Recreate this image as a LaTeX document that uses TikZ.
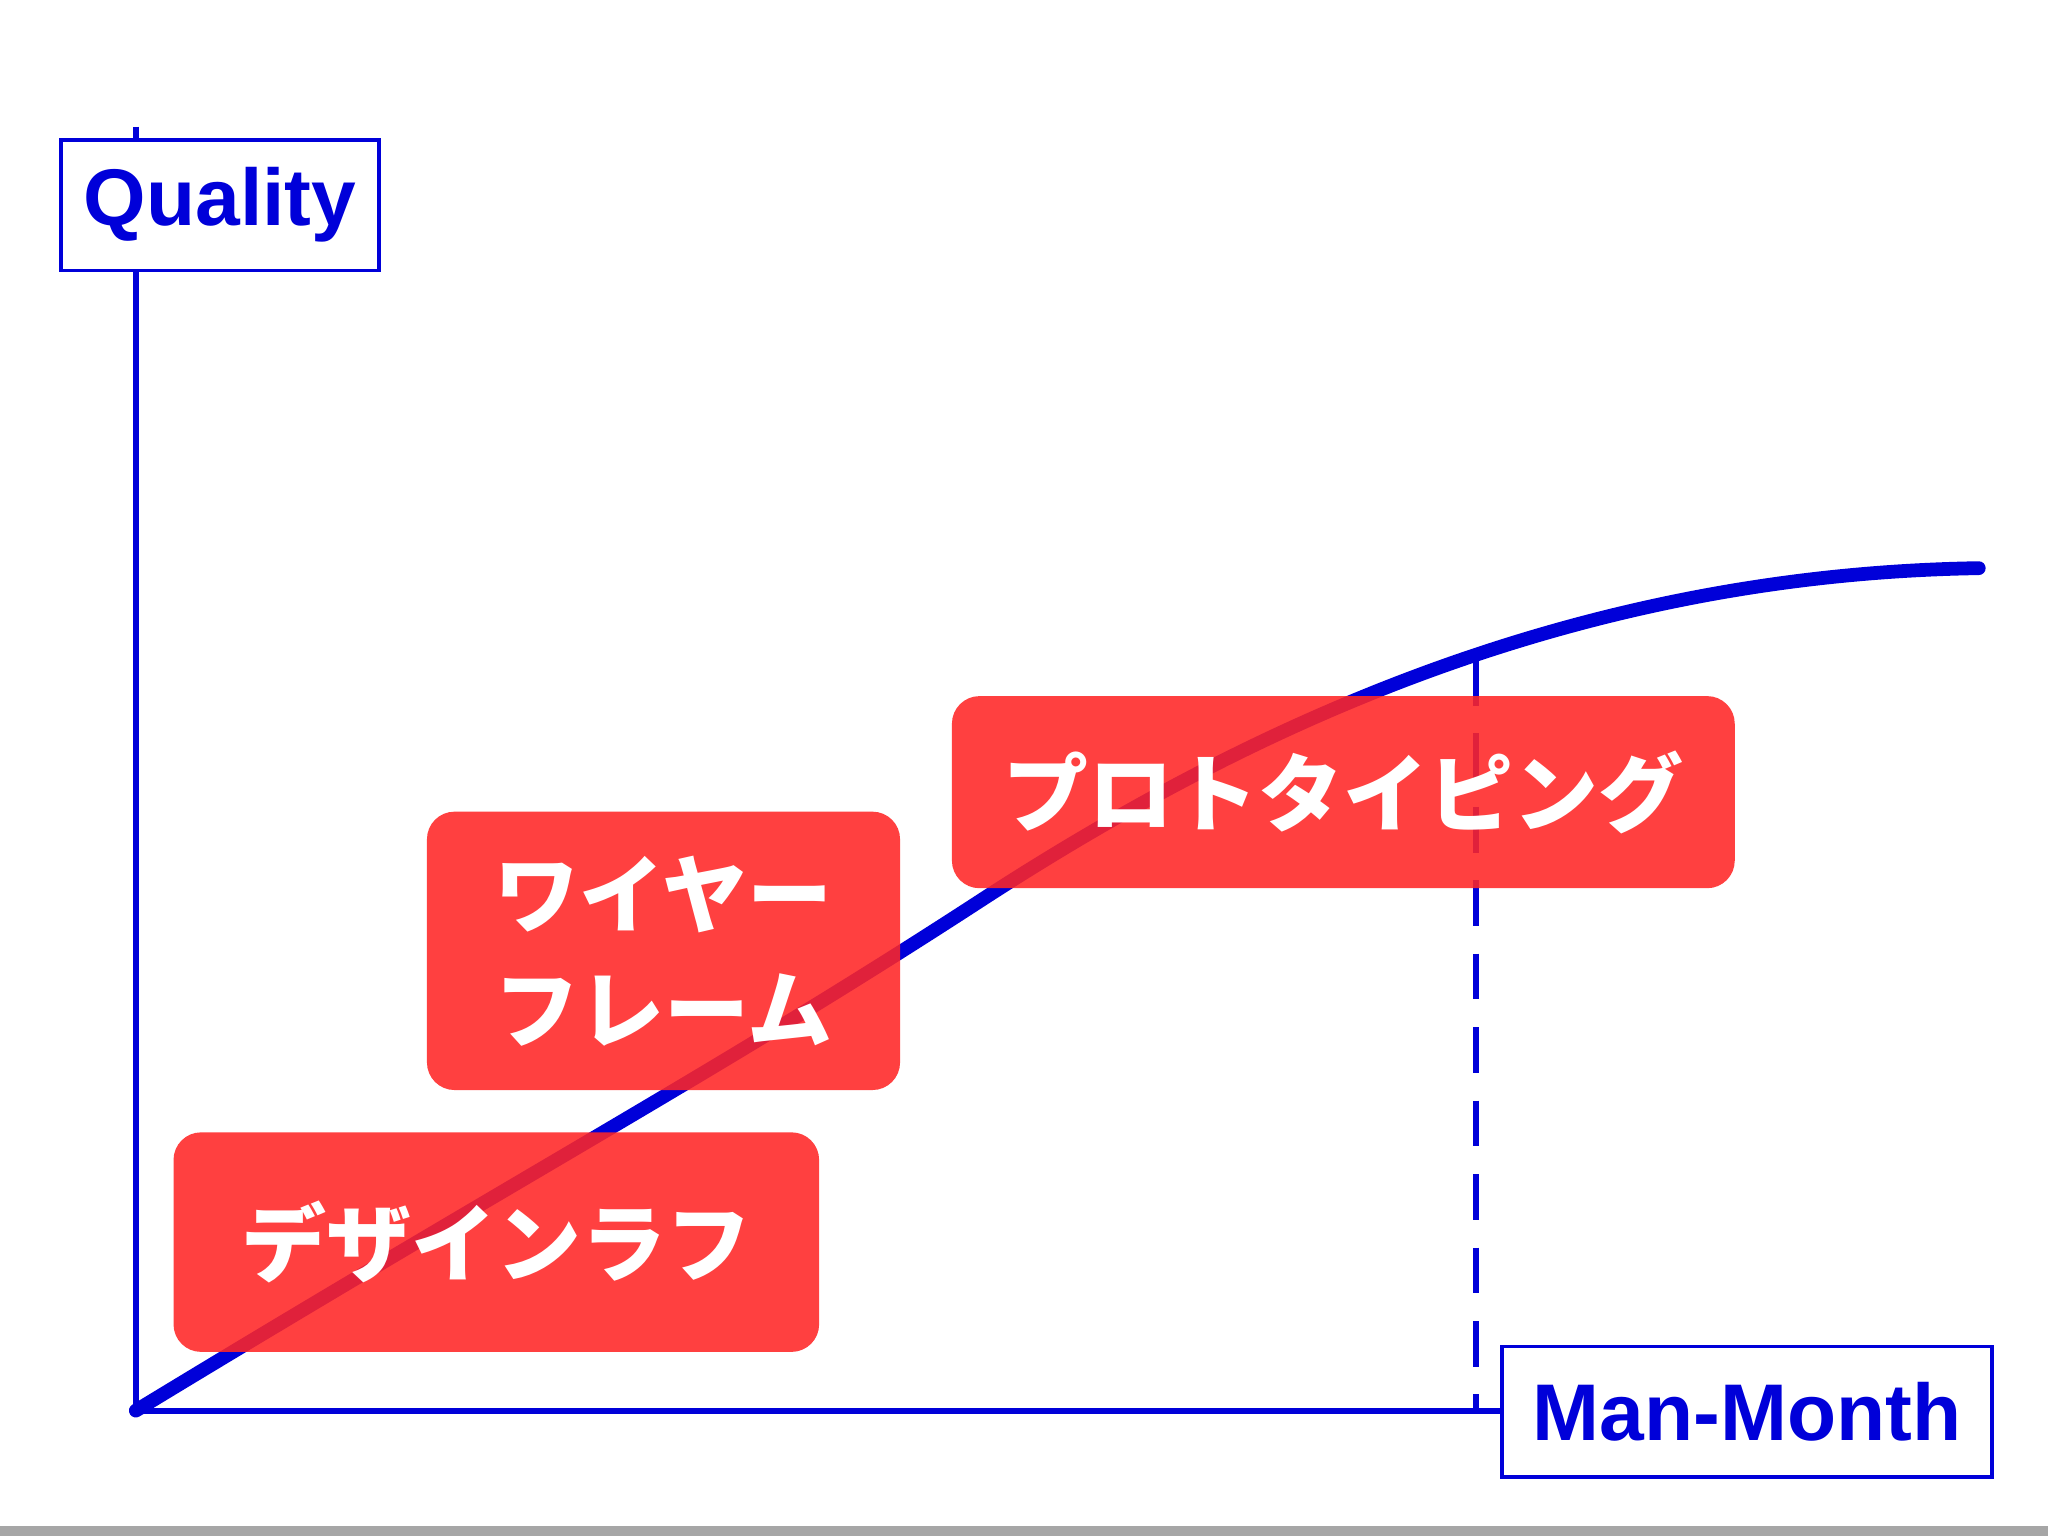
\documentclass[tikz,border=0pt]{standalone}
\usepackage{fontspec}
\setmainfont{Liberation Sans}
\newfontfamily\cjk{Noto Sans CJK JP}
\begin{document}
\begin{tikzpicture}[x=0.01cm,y=-0.01cm,
  axis/.style={draw=blue!85!black, line width=1.3pt},
  lab/.style={draw=blue!85!black, line width=0.8pt, fill=white, text=blue!85!black, font=\fontsize{17.5}{21}\selectfont\bfseries, inner sep=0pt},
  redbox/.style={fill=red!85!white, fill opacity=0.88, text opacity=1, rounded corners=6pt, text=white, font=\cjk\bfseries\fontsize{18.5}{25}\selectfont, align=center, inner sep=0pt}]
\useasboundingbox[fill=white] (0,0) rectangle (1568,1176);
\fill[gray!70] (0,1168) rectangle (1568,1176);
\coordinate (o) at (104,1080);
\coordinate (top) at (104,97);
\coordinate (right) at (1150,1080);
\coordinate (dtop) at (1130,505);
\coordinate (dbot) at (1130,1080);
\draw[axis] (top) -- (o) -- (right);
\draw[blue!85!black, line width=1.2pt, dash pattern=on 10pt off 6pt] (dtop) -- (dbot);
\draw[blue!85!black, line width=3pt, line cap=round] (o) .. controls (400,900) and (550,820) .. (750,690) .. controls (950,560) and (1200,440) .. (1515,435);
\node[lab, minimum width=2.43cm, minimum height=1cm] (q) at (168.5,157) {Quality};
\node[lab, minimum width=3.75cm, minimum height=1cm] (mm) at (1337.5,1081) {Man-Month};
\node[redbox, minimum width=4.94cm, minimum height=1.68cm] (b1) at (380,951) {デザインラフ};
\node[redbox, minimum width=3.62cm, minimum height=2.13cm] (b2) at (508,728) {ワイヤー\\フレーム};
\node[redbox, minimum width=5.99cm, minimum height=1.47cm] (b3) at (1028.5,606.5) {プロトタイピング};
\end{tikzpicture}
\end{document}
